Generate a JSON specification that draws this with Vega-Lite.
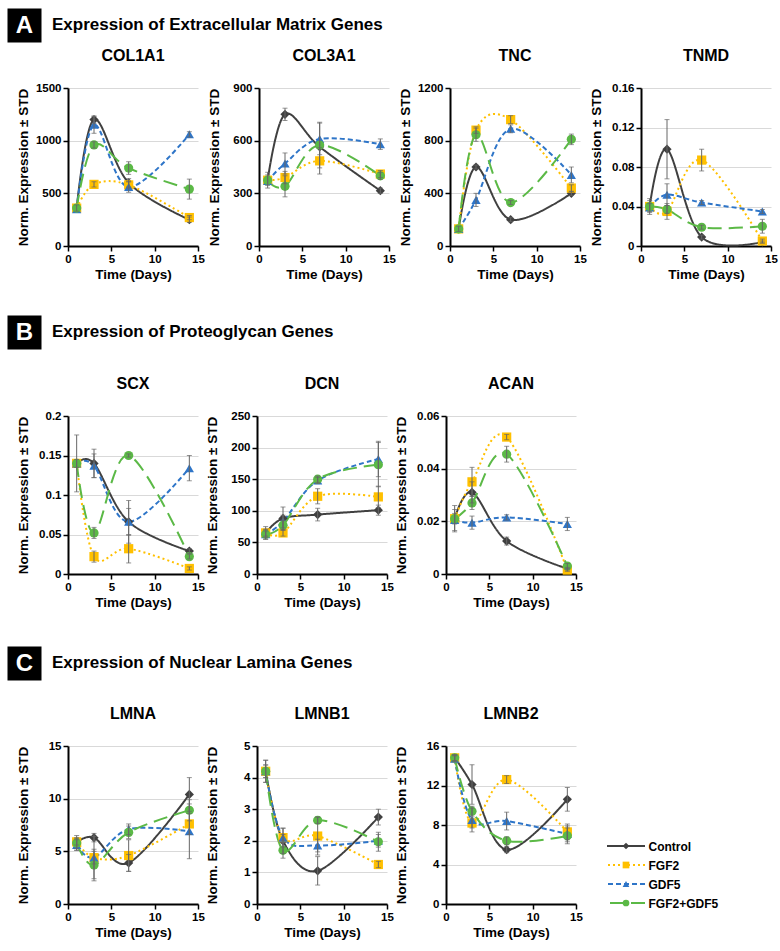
{
"$schema": "https://vega.github.io/schema/vega-lite/v6.json",
"padding": {"left": 7, "top": 8, "right": 5, "bottom": 5},
"background": "white",
"data": {"values": [
{"g":"COL1A1","s":"Control","t":1,"v":360,"e":0},{"g":"COL1A1","s":"Control","t":3,"v":1200,"e":35},{"g":"COL1A1","s":"Control","t":7,"v":600,"e":40},{"g":"COL1A1","s":"Control","t":14,"v":250,"e":25},
{"g":"COL1A1","s":"FGF2","t":1,"v":360,"e":0},{"g":"COL1A1","s":"FGF2","t":3,"v":585,"e":25},{"g":"COL1A1","s":"FGF2","t":7,"v":580,"e":30},{"g":"COL1A1","s":"FGF2","t":14,"v":270,"e":20},
{"g":"COL1A1","s":"GDF5","t":1,"v":350,"e":0},{"g":"COL1A1","s":"GDF5","t":3,"v":1150,"e":80},{"g":"COL1A1","s":"GDF5","t":7,"v":560,"e":50},{"g":"COL1A1","s":"GDF5","t":14,"v":1060,"e":25},
{"g":"COL1A1","s":"FGF2+GDF5","t":1,"v":360,"e":30},{"g":"COL1A1","s":"FGF2+GDF5","t":3,"v":960,"e":30},{"g":"COL1A1","s":"FGF2+GDF5","t":7,"v":740,"e":60},{"g":"COL1A1","s":"FGF2+GDF5","t":14,"v":540,"e":95},
{"g":"COL3A1","s":"Control","t":1,"v":375,"e":30},{"g":"COL3A1","s":"Control","t":3,"v":750,"e":35},{"g":"COL3A1","s":"Control","t":7,"v":565,"e":0},{"g":"COL3A1","s":"Control","t":14,"v":315,"e":15},
{"g":"COL3A1","s":"FGF2","t":1,"v":375,"e":0},{"g":"COL3A1","s":"FGF2","t":3,"v":390,"e":35},{"g":"COL3A1","s":"FGF2","t":7,"v":485,"e":75},{"g":"COL3A1","s":"FGF2","t":14,"v":410,"e":20},
{"g":"COL3A1","s":"GDF5","t":1,"v":370,"e":0},{"g":"COL3A1","s":"GDF5","t":3,"v":470,"e":60},{"g":"COL3A1","s":"GDF5","t":7,"v":610,"e":90},{"g":"COL3A1","s":"GDF5","t":14,"v":580,"e":30},
{"g":"COL3A1","s":"FGF2+GDF5","t":1,"v":375,"e":45},{"g":"COL3A1","s":"FGF2+GDF5","t":3,"v":340,"e":60},{"g":"COL3A1","s":"FGF2+GDF5","t":7,"v":575,"e":130},{"g":"COL3A1","s":"FGF2+GDF5","t":14,"v":400,"e":20},
{"g":"TNC","s":"Control","t":1,"v":130,"e":0},{"g":"TNC","s":"Control","t":3,"v":600,"e":15},{"g":"TNC","s":"Control","t":7,"v":200,"e":15},{"g":"TNC","s":"Control","t":14,"v":400,"e":15},
{"g":"TNC","s":"FGF2","t":1,"v":130,"e":0},{"g":"TNC","s":"FGF2","t":3,"v":880,"e":25},{"g":"TNC","s":"FGF2","t":7,"v":960,"e":30},{"g":"TNC","s":"FGF2","t":14,"v":440,"e":25},
{"g":"TNC","s":"GDF5","t":1,"v":130,"e":0},{"g":"TNC","s":"GDF5","t":3,"v":350,"e":50},{"g":"TNC","s":"GDF5","t":7,"v":890,"e":30},{"g":"TNC","s":"GDF5","t":14,"v":540,"e":60},
{"g":"TNC","s":"FGF2+GDF5","t":1,"v":130,"e":20},{"g":"TNC","s":"FGF2+GDF5","t":3,"v":845,"e":50},{"g":"TNC","s":"FGF2+GDF5","t":7,"v":330,"e":15},{"g":"TNC","s":"FGF2+GDF5","t":14,"v":810,"e":40},
{"g":"TNMD","s":"Control","t":1,"v":0.040,"e":0.006},{"g":"TNMD","s":"Control","t":3,"v":0.098,"e":0.030},{"g":"TNMD","s":"Control","t":7,"v":0.009,"e":0.002},{"g":"TNMD","s":"Control","t":14,"v":0.004,"e":0.001},
{"g":"TNMD","s":"FGF2","t":1,"v":0.040,"e":0},{"g":"TNMD","s":"FGF2","t":3,"v":0.035,"e":0.008},{"g":"TNMD","s":"FGF2","t":7,"v":0.087,"e":0.011},{"g":"TNMD","s":"FGF2","t":14,"v":0.005,"e":0.002},
{"g":"TNMD","s":"GDF5","t":1,"v":0.039,"e":0.004},{"g":"TNMD","s":"GDF5","t":3,"v":0.052,"e":0.011},{"g":"TNMD","s":"GDF5","t":7,"v":0.044,"e":0.002},{"g":"TNMD","s":"GDF5","t":14,"v":0.035,"e":0.002},
{"g":"TNMD","s":"FGF2+GDF5","t":1,"v":0.040,"e":0.008},{"g":"TNMD","s":"FGF2+GDF5","t":3,"v":0.037,"e":0.004},{"g":"TNMD","s":"FGF2+GDF5","t":7,"v":0.019,"e":0.002},{"g":"TNMD","s":"FGF2+GDF5","t":14,"v":0.020,"e":0.007},
{"g":"SCX","s":"Control","t":1,"v":0.140,"e":0.036},{"g":"SCX","s":"Control","t":3,"v":0.140,"e":0.018},{"g":"SCX","s":"Control","t":7,"v":0.066,"e":0.027},{"g":"SCX","s":"Control","t":14,"v":0.029,"e":0.003},
{"g":"SCX","s":"FGF2","t":1,"v":0.140,"e":0},{"g":"SCX","s":"FGF2","t":3,"v":0.022,"e":0.007},{"g":"SCX","s":"FGF2","t":7,"v":0.032,"e":0.018},{"g":"SCX","s":"FGF2","t":14,"v":0.007,"e":0.002},
{"g":"SCX","s":"GDF5","t":1,"v":0.140,"e":0},{"g":"SCX","s":"GDF5","t":3,"v":0.137,"e":0.015},{"g":"SCX","s":"GDF5","t":7,"v":0.066,"e":0.017},{"g":"SCX","s":"GDF5","t":14,"v":0.134,"e":0.016},
{"g":"SCX","s":"FGF2+GDF5","t":1,"v":0.140,"e":0.005},{"g":"SCX","s":"FGF2+GDF5","t":3,"v":0.052,"e":0.007},{"g":"SCX","s":"FGF2+GDF5","t":7,"v":0.150,"e":0.002},{"g":"SCX","s":"FGF2+GDF5","t":14,"v":0.022,"e":0.003},
{"g":"DCN","s":"Control","t":1,"v":65,"e":10},{"g":"DCN","s":"Control","t":3,"v":88,"e":18},{"g":"DCN","s":"Control","t":7,"v":94,"e":10},{"g":"DCN","s":"Control","t":14,"v":101,"e":8},
{"g":"DCN","s":"FGF2","t":1,"v":65,"e":5},{"g":"DCN","s":"FGF2","t":3,"v":65,"e":5},{"g":"DCN","s":"FGF2","t":7,"v":123,"e":12},{"g":"DCN","s":"FGF2","t":14,"v":122,"e":17},
{"g":"DCN","s":"GDF5","t":1,"v":63,"e":5},{"g":"DCN","s":"GDF5","t":3,"v":83,"e":10},{"g":"DCN","s":"GDF5","t":7,"v":148,"e":5},{"g":"DCN","s":"GDF5","t":14,"v":182,"e":28},
{"g":"DCN","s":"FGF2+GDF5","t":1,"v":63,"e":8},{"g":"DCN","s":"FGF2+GDF5","t":3,"v":77,"e":8},{"g":"DCN","s":"FGF2+GDF5","t":7,"v":150,"e":5},{"g":"DCN","s":"FGF2+GDF5","t":14,"v":173,"e":35},
{"g":"ACAN","s":"Control","t":1,"v":0.021,"e":0.002},{"g":"ACAN","s":"Control","t":3,"v":0.031,"e":0.004},{"g":"ACAN","s":"Control","t":7,"v":0.0125,"e":0.0015},{"g":"ACAN","s":"Control","t":14,"v":0.002,"e":0.0005},
{"g":"ACAN","s":"FGF2","t":1,"v":0.021,"e":0},{"g":"ACAN","s":"FGF2","t":3,"v":0.035,"e":0.0055},{"g":"ACAN","s":"FGF2","t":7,"v":0.052,"e":0.001},{"g":"ACAN","s":"FGF2","t":14,"v":0.0015,"e":0.0005},
{"g":"ACAN","s":"GDF5","t":1,"v":0.0205,"e":0.004},{"g":"ACAN","s":"GDF5","t":3,"v":0.0195,"e":0.0025},{"g":"ACAN","s":"GDF5","t":7,"v":0.0215,"e":0.001},{"g":"ACAN","s":"GDF5","t":14,"v":0.019,"e":0.0025},
{"g":"ACAN","s":"FGF2+GDF5","t":1,"v":0.021,"e":0.005},{"g":"ACAN","s":"FGF2+GDF5","t":3,"v":0.027,"e":0.0025},{"g":"ACAN","s":"FGF2+GDF5","t":7,"v":0.0455,"e":0.003},{"g":"ACAN","s":"FGF2+GDF5","t":14,"v":0.003,"e":0.001},
{"g":"LMNA","s":"Control","t":1,"v":5.8,"e":0.5},{"g":"LMNA","s":"Control","t":3,"v":6.3,"e":0.4},{"g":"LMNA","s":"Control","t":7,"v":3.9,"e":0.8},{"g":"LMNA","s":"Control","t":14,"v":10.4,"e":1.6},
{"g":"LMNA","s":"FGF2","t":1,"v":5.9,"e":0.3},{"g":"LMNA","s":"FGF2","t":3,"v":4.4,"e":0.6},{"g":"LMNA","s":"FGF2","t":7,"v":4.6,"e":1.5},{"g":"LMNA","s":"FGF2","t":14,"v":7.6,"e":1.0},
{"g":"LMNA","s":"GDF5","t":1,"v":5.6,"e":0.5},{"g":"LMNA","s":"GDF5","t":3,"v":4.4,"e":2.0},{"g":"LMNA","s":"GDF5","t":7,"v":7.1,"e":0.5},{"g":"LMNA","s":"GDF5","t":14,"v":6.9,"e":2.6},
{"g":"LMNA","s":"FGF2+GDF5","t":1,"v":5.8,"e":0.7},{"g":"LMNA","s":"FGF2+GDF5","t":3,"v":3.7,"e":1.5},{"g":"LMNA","s":"FGF2+GDF5","t":7,"v":6.8,"e":0.6},{"g":"LMNA","s":"FGF2+GDF5","t":14,"v":8.9,"e":1.0},
{"g":"LMNB1","s":"Control","t":1,"v":4.2,"e":0.35},{"g":"LMNB1","s":"Control","t":3,"v":2.0,"e":0.4},{"g":"LMNB1","s":"Control","t":7,"v":1.05,"e":0.45},{"g":"LMNB1","s":"Control","t":14,"v":2.75,"e":0.25},
{"g":"LMNB1","s":"FGF2","t":1,"v":4.2,"e":0.2},{"g":"LMNB1","s":"FGF2","t":3,"v":2.1,"e":0.1},{"g":"LMNB1","s":"FGF2","t":7,"v":2.15,"e":0.6},{"g":"LMNB1","s":"FGF2","t":14,"v":1.25,"e":0.1},
{"g":"LMNB1","s":"GDF5","t":1,"v":4.2,"e":0.2},{"g":"LMNB1","s":"GDF5","t":3,"v":2.1,"e":0.3},{"g":"LMNB1","s":"GDF5","t":7,"v":1.85,"e":0.2},{"g":"LMNB1","s":"GDF5","t":14,"v":2.0,"e":0.2},
{"g":"LMNB1","s":"FGF2+GDF5","t":1,"v":4.2,"e":0.35},{"g":"LMNB1","s":"FGF2+GDF5","t":3,"v":1.7,"e":0.25},{"g":"LMNB1","s":"FGF2+GDF5","t":7,"v":2.65,"e":0.1},{"g":"LMNB1","s":"FGF2+GDF5","t":14,"v":1.97,"e":0.3},
{"g":"LMNB2","s":"Control","t":1,"v":14.8,"e":0.3},{"g":"LMNB2","s":"Control","t":3,"v":12.1,"e":2.0},{"g":"LMNB2","s":"Control","t":7,"v":5.5,"e":0.3},{"g":"LMNB2","s":"Control","t":14,"v":10.6,"e":1.2},
{"g":"LMNB2","s":"FGF2","t":1,"v":14.8,"e":0.3},{"g":"LMNB2","s":"FGF2","t":3,"v":8.2,"e":0.5},{"g":"LMNB2","s":"FGF2","t":7,"v":12.6,"e":0.4},{"g":"LMNB2","s":"FGF2","t":14,"v":7.3,"e":0.8},
{"g":"LMNB2","s":"GDF5","t":1,"v":14.7,"e":0.3},{"g":"LMNB2","s":"GDF5","t":3,"v":8.5,"e":1.2},{"g":"LMNB2","s":"GDF5","t":7,"v":8.4,"e":0.9},{"g":"LMNB2","s":"GDF5","t":14,"v":7.1,"e":0.8},
{"g":"LMNB2","s":"FGF2+GDF5","t":1,"v":14.8,"e":0.3},{"g":"LMNB2","s":"FGF2+GDF5","t":3,"v":9.4,"e":0.5},{"g":"LMNB2","s":"FGF2+GDF5","t":7,"v":6.4,"e":0.4},{"g":"LMNB2","s":"FGF2+GDF5","t":14,"v":6.9,"e":0.8}
]},
"vconcat": [
 {"spacing": 6, "vconcat": [
  {"width": 380, "height": 34, "data": {"values": [{"l": "A", "k": "Expression of Extracellular Matrix Genes"}]},
   "mark": {"type": "text", "align": "left", "dx": -16, "fontSize": 17, "fontWeight": "bold", "color": "black"},
   "encoding": {"text": {"field": "k"},
     "x": {"field": "k", "type": "nominal", "scale": {"type": "point", "padding": 0, "align": 0}, "axis": null},
     "y": {"field": "l", "type": "nominal", "scale": {"type": "point", "padding": 0.5}, "axis": {"orient": "left", "title": "A", "titleAngle": 0, "titleAlign": "center", "titleBaseline": "middle", "titleColor": "white", "titleFontSize": 24, "titleFontWeight": "bold", "titlePadding": -17, "labels": false, "ticks": false, "domain": true, "domainColor": "black", "domainWidth": 34, "domainCap": "butt", "offset": 44, "grid": false, "minExtent": 17, "maxExtent": 17}}}},
  {"spacing": 2, "hconcat": [
   {"title": "COL1A1", "width": 130, "height": 158, "transform": [{"filter": "datum.g === 'COL1A1'"}],
    "encoding": {"x": {"field": "t", "type": "quantitative", "scale": {"domain": [0, 15]}, "axis": {"values": [0, 5, 10, 15], "title": "Time (Days)"}},
                 "y": {"field": "v", "type": "quantitative", "scale": {"domain": [0, 1500]}, "axis": {"values": [0, 500, 1000, 1500], "format": "~r", "title": "Norm. Expression ± STD"}}},
    "layer": [
     {"mark": {"type": "line", "interpolate": "cardinal", "strokeWidth": 2}, "encoding": {"color": {"field": "s", "type": "nominal", "scale": {"domain": ["Control", "FGF2", "GDF5", "FGF2+GDF5"], "range": ["#404040", "#FFC000", "#2E75C8", "#5BB946"]}}, "strokeDash": {"field": "s", "type": "nominal", "scale": {"domain": ["Control", "FGF2", "GDF5", "FGF2+GDF5"], "range": [[1, 0], [2, 3], [5, 3], [14, 7]]}}}},
     {"mark": {"type": "point", "filled": true, "opacity": 1, "size": 85}, "encoding": {"color": {"field": "s", "type": "nominal"}, "shape": {"field": "s", "type": "nominal", "scale": {"domain": ["Control", "FGF2", "GDF5", "FGF2+GDF5"], "range": ["diamond", "square", "triangle-up", "circle"]}}}},
     {"transform": [{"filter": "datum.e > 0"}], "mark": {"type": "errorbar", "ticks": true, "color": "#666666", "thickness": 1}, "encoding": {"yError": {"field": "e"}}}
    ]},
   {"title": "COL3A1", "width": 130, "height": 158, "transform": [{"filter": "datum.g === 'COL3A1'"}],
    "encoding": {"x": {"field": "t", "type": "quantitative", "scale": {"domain": [0, 15]}, "axis": {"values": [0, 5, 10, 15], "title": "Time (Days)"}},
                 "y": {"field": "v", "type": "quantitative", "scale": {"domain": [0, 900]}, "axis": {"values": [0, 300, 600, 900], "format": "~r", "title": "Norm. Expression ± STD"}}},
    "layer": [
     {"mark": {"type": "line", "interpolate": "cardinal", "strokeWidth": 2}, "encoding": {"color": {"field": "s", "type": "nominal", "scale": {"domain": ["Control", "FGF2", "GDF5", "FGF2+GDF5"], "range": ["#404040", "#FFC000", "#2E75C8", "#5BB946"]}}, "strokeDash": {"field": "s", "type": "nominal", "scale": {"domain": ["Control", "FGF2", "GDF5", "FGF2+GDF5"], "range": [[1, 0], [2, 3], [5, 3], [14, 7]]}}}},
     {"mark": {"type": "point", "filled": true, "opacity": 1, "size": 85}, "encoding": {"color": {"field": "s", "type": "nominal"}, "shape": {"field": "s", "type": "nominal", "scale": {"domain": ["Control", "FGF2", "GDF5", "FGF2+GDF5"], "range": ["diamond", "square", "triangle-up", "circle"]}}}},
     {"transform": [{"filter": "datum.e > 0"}], "mark": {"type": "errorbar", "ticks": true, "color": "#666666", "thickness": 1}, "encoding": {"yError": {"field": "e"}}}
    ]},
   {"title": "TNC", "width": 130, "height": 158, "transform": [{"filter": "datum.g === 'TNC'"}],
    "encoding": {"x": {"field": "t", "type": "quantitative", "scale": {"domain": [0, 15]}, "axis": {"values": [0, 5, 10, 15], "title": "Time (Days)"}},
                 "y": {"field": "v", "type": "quantitative", "scale": {"domain": [0, 1200]}, "axis": {"values": [0, 400, 800, 1200], "format": "~r", "title": "Norm. Expression ± STD"}}},
    "layer": [
     {"mark": {"type": "line", "interpolate": "cardinal", "strokeWidth": 2}, "encoding": {"color": {"field": "s", "type": "nominal", "scale": {"domain": ["Control", "FGF2", "GDF5", "FGF2+GDF5"], "range": ["#404040", "#FFC000", "#2E75C8", "#5BB946"]}}, "strokeDash": {"field": "s", "type": "nominal", "scale": {"domain": ["Control", "FGF2", "GDF5", "FGF2+GDF5"], "range": [[1, 0], [2, 3], [5, 3], [14, 7]]}}}},
     {"mark": {"type": "point", "filled": true, "opacity": 1, "size": 85}, "encoding": {"color": {"field": "s", "type": "nominal"}, "shape": {"field": "s", "type": "nominal", "scale": {"domain": ["Control", "FGF2", "GDF5", "FGF2+GDF5"], "range": ["diamond", "square", "triangle-up", "circle"]}}}},
     {"transform": [{"filter": "datum.e > 0"}], "mark": {"type": "errorbar", "ticks": true, "color": "#666666", "thickness": 1}, "encoding": {"yError": {"field": "e"}}}
    ]},
   {"title": "TNMD", "width": 130, "height": 158, "transform": [{"filter": "datum.g === 'TNMD'"}],
    "encoding": {"x": {"field": "t", "type": "quantitative", "scale": {"domain": [0, 15]}, "axis": {"values": [0, 5, 10, 15], "title": "Time (Days)"}},
                 "y": {"field": "v", "type": "quantitative", "scale": {"domain": [0, 0.16]}, "axis": {"values": [0, 0.04, 0.08, 0.12, 0.16], "format": "~r", "title": "Norm. Expression ± STD"}}},
    "layer": [
     {"mark": {"type": "line", "interpolate": "cardinal", "strokeWidth": 2}, "encoding": {"color": {"field": "s", "type": "nominal", "scale": {"domain": ["Control", "FGF2", "GDF5", "FGF2+GDF5"], "range": ["#404040", "#FFC000", "#2E75C8", "#5BB946"]}}, "strokeDash": {"field": "s", "type": "nominal", "scale": {"domain": ["Control", "FGF2", "GDF5", "FGF2+GDF5"], "range": [[1, 0], [2, 3], [5, 3], [14, 7]]}}}},
     {"mark": {"type": "point", "filled": true, "opacity": 1, "size": 85}, "encoding": {"color": {"field": "s", "type": "nominal"}, "shape": {"field": "s", "type": "nominal", "scale": {"domain": ["Control", "FGF2", "GDF5", "FGF2+GDF5"], "range": ["diamond", "square", "triangle-up", "circle"]}}}},
     {"transform": [{"filter": "datum.e > 0"}], "mark": {"type": "errorbar", "ticks": true, "color": "#666666", "thickness": 1}, "encoding": {"yError": {"field": "e"}}}
    ]}
  ]}
 ]},
 {"spacing": 37, "vconcat": [
  {"spacing": 27, "vconcat": [
   {"width": 380, "height": 34, "data": {"values": [{"l": "B", "k": "Expression of Proteoglycan Genes"}]},
    "mark": {"type": "text", "align": "left", "dx": -16, "fontSize": 17, "fontWeight": "bold", "color": "black"},
    "encoding": {"text": {"field": "k"},
      "x": {"field": "k", "type": "nominal", "scale": {"type": "point", "padding": 0, "align": 0}, "axis": null},
      "y": {"field": "l", "type": "nominal", "scale": {"type": "point", "padding": 0.5}, "axis": {"orient": "left", "title": "B", "titleAngle": 0, "titleAlign": "center", "titleBaseline": "middle", "titleColor": "white", "titleFontSize": 24, "titleFontWeight": "bold", "titlePadding": -17, "labels": false, "ticks": false, "domain": true, "domainColor": "black", "domainWidth": 34, "domainCap": "butt", "offset": 44, "grid": false, "minExtent": 17, "maxExtent": 17}}}},
   {"spacing": 0, "hconcat": [
    {"title": "SCX", "width": 130, "height": 158, "transform": [{"filter": "datum.g === 'SCX'"}],
     "encoding": {"x": {"field": "t", "type": "quantitative", "scale": {"domain": [0, 15]}, "axis": {"values": [0, 5, 10, 15], "title": "Time (Days)"}},
                  "y": {"field": "v", "type": "quantitative", "scale": {"domain": [0, 0.2]}, "axis": {"values": [0, 0.05, 0.1, 0.15, 0.2], "format": "~r", "title": "Norm. Expression ± STD"}}},
     "layer": [
      {"mark": {"type": "line", "interpolate": "cardinal", "strokeWidth": 2}, "encoding": {"color": {"field": "s", "type": "nominal", "scale": {"domain": ["Control", "FGF2", "GDF5", "FGF2+GDF5"], "range": ["#404040", "#FFC000", "#2E75C8", "#5BB946"]}}, "strokeDash": {"field": "s", "type": "nominal", "scale": {"domain": ["Control", "FGF2", "GDF5", "FGF2+GDF5"], "range": [[1, 0], [2, 3], [5, 3], [14, 7]]}}}},
      {"mark": {"type": "point", "filled": true, "opacity": 1, "size": 85}, "encoding": {"color": {"field": "s", "type": "nominal"}, "shape": {"field": "s", "type": "nominal", "scale": {"domain": ["Control", "FGF2", "GDF5", "FGF2+GDF5"], "range": ["diamond", "square", "triangle-up", "circle"]}}}},
      {"transform": [{"filter": "datum.e > 0"}], "mark": {"type": "errorbar", "ticks": true, "color": "#666666", "thickness": 1}, "encoding": {"yError": {"field": "e"}}}
     ]},
    {"title": "DCN", "width": 130, "height": 158, "transform": [{"filter": "datum.g === 'DCN'"}],
     "encoding": {"x": {"field": "t", "type": "quantitative", "scale": {"domain": [0, 15]}, "axis": {"values": [0, 5, 10, 15], "title": "Time (Days)"}},
                  "y": {"field": "v", "type": "quantitative", "scale": {"domain": [0, 250]}, "axis": {"values": [0, 50, 100, 150, 200, 250], "format": "~r", "title": "Norm. Expression ± STD"}}},
     "layer": [
      {"mark": {"type": "line", "interpolate": "cardinal", "strokeWidth": 2}, "encoding": {"color": {"field": "s", "type": "nominal", "scale": {"domain": ["Control", "FGF2", "GDF5", "FGF2+GDF5"], "range": ["#404040", "#FFC000", "#2E75C8", "#5BB946"]}}, "strokeDash": {"field": "s", "type": "nominal", "scale": {"domain": ["Control", "FGF2", "GDF5", "FGF2+GDF5"], "range": [[1, 0], [2, 3], [5, 3], [14, 7]]}}}},
      {"mark": {"type": "point", "filled": true, "opacity": 1, "size": 85}, "encoding": {"color": {"field": "s", "type": "nominal"}, "shape": {"field": "s", "type": "nominal", "scale": {"domain": ["Control", "FGF2", "GDF5", "FGF2+GDF5"], "range": ["diamond", "square", "triangle-up", "circle"]}}}},
      {"transform": [{"filter": "datum.e > 0"}], "mark": {"type": "errorbar", "ticks": true, "color": "#666666", "thickness": 1}, "encoding": {"yError": {"field": "e"}}}
     ]},
    {"title": "ACAN", "width": 130, "height": 158, "transform": [{"filter": "datum.g === 'ACAN'"}],
     "encoding": {"x": {"field": "t", "type": "quantitative", "scale": {"domain": [0, 15]}, "axis": {"values": [0, 5, 10, 15], "title": "Time (Days)"}},
                  "y": {"field": "v", "type": "quantitative", "scale": {"domain": [0, 0.06]}, "axis": {"values": [0, 0.02, 0.04, 0.06], "format": "~r", "title": "Norm. Expression ± STD"}}},
     "layer": [
      {"mark": {"type": "line", "interpolate": "cardinal", "strokeWidth": 2}, "encoding": {"color": {"field": "s", "type": "nominal", "scale": {"domain": ["Control", "FGF2", "GDF5", "FGF2+GDF5"], "range": ["#404040", "#FFC000", "#2E75C8", "#5BB946"]}}, "strokeDash": {"field": "s", "type": "nominal", "scale": {"domain": ["Control", "FGF2", "GDF5", "FGF2+GDF5"], "range": [[1, 0], [2, 3], [5, 3], [14, 7]]}}}},
      {"mark": {"type": "point", "filled": true, "opacity": 1, "size": 85}, "encoding": {"color": {"field": "s", "type": "nominal"}, "shape": {"field": "s", "type": "nominal", "scale": {"domain": ["Control", "FGF2", "GDF5", "FGF2+GDF5"], "range": ["diamond", "square", "triangle-up", "circle"]}}}},
      {"transform": [{"filter": "datum.e > 0"}], "mark": {"type": "errorbar", "ticks": true, "color": "#666666", "thickness": 1}, "encoding": {"yError": {"field": "e"}}}
     ]}
   ]}
  ]},
  {"spacing": 26, "vconcat": [
   {"width": 380, "height": 34, "data": {"values": [{"l": "C", "k": "Expression of Nuclear Lamina Genes"}]},
    "mark": {"type": "text", "align": "left", "dx": -16, "fontSize": 17, "fontWeight": "bold", "color": "black"},
    "encoding": {"text": {"field": "k"},
      "x": {"field": "k", "type": "nominal", "scale": {"type": "point", "padding": 0, "align": 0}, "axis": null},
      "y": {"field": "l", "type": "nominal", "scale": {"type": "point", "padding": 0.5}, "axis": {"orient": "left", "title": "C", "titleAngle": 0, "titleAlign": "center", "titleBaseline": "middle", "titleColor": "white", "titleFontSize": 24, "titleFontWeight": "bold", "titlePadding": -17, "labels": false, "ticks": false, "domain": true, "domainColor": "black", "domainWidth": 34, "domainCap": "butt", "offset": 44, "grid": false, "minExtent": 17, "maxExtent": 17}}}},
   {"spacing": 23, "hconcat": [
    {"spacing": 0, "hconcat": [
     {"title": "LMNA", "width": 130, "height": 158, "transform": [{"filter": "datum.g === 'LMNA'"}],
      "encoding": {"x": {"field": "t", "type": "quantitative", "scale": {"domain": [0, 15]}, "axis": {"values": [0, 5, 10, 15], "title": "Time (Days)"}},
                   "y": {"field": "v", "type": "quantitative", "scale": {"domain": [0, 15]}, "axis": {"values": [0, 5, 10, 15], "format": "~r", "title": "Norm. Expression ± STD"}}},
      "layer": [
       {"mark": {"type": "line", "interpolate": "cardinal", "strokeWidth": 2}, "encoding": {"color": {"field": "s", "type": "nominal", "scale": {"domain": ["Control", "FGF2", "GDF5", "FGF2+GDF5"], "range": ["#404040", "#FFC000", "#2E75C8", "#5BB946"]}}, "strokeDash": {"field": "s", "type": "nominal", "scale": {"domain": ["Control", "FGF2", "GDF5", "FGF2+GDF5"], "range": [[1, 0], [2, 3], [5, 3], [14, 7]]}}}},
       {"mark": {"type": "point", "filled": true, "opacity": 1, "size": 85}, "encoding": {"color": {"field": "s", "type": "nominal"}, "shape": {"field": "s", "type": "nominal", "scale": {"domain": ["Control", "FGF2", "GDF5", "FGF2+GDF5"], "range": ["diamond", "square", "triangle-up", "circle"]}}}},
       {"transform": [{"filter": "datum.e > 0"}], "mark": {"type": "errorbar", "ticks": true, "color": "#666666", "thickness": 1}, "encoding": {"yError": {"field": "e"}}}
      ]},
     {"title": "LMNB1", "width": 130, "height": 158, "transform": [{"filter": "datum.g === 'LMNB1'"}],
      "encoding": {"x": {"field": "t", "type": "quantitative", "scale": {"domain": [0, 15]}, "axis": {"values": [0, 5, 10, 15], "title": "Time (Days)"}},
                   "y": {"field": "v", "type": "quantitative", "scale": {"domain": [0, 5]}, "axis": {"values": [0, 1, 2, 3, 4, 5], "format": "~r", "title": "Norm. Expression ± STD"}}},
      "layer": [
       {"mark": {"type": "line", "interpolate": "cardinal", "strokeWidth": 2}, "encoding": {"color": {"field": "s", "type": "nominal", "scale": {"domain": ["Control", "FGF2", "GDF5", "FGF2+GDF5"], "range": ["#404040", "#FFC000", "#2E75C8", "#5BB946"]}}, "strokeDash": {"field": "s", "type": "nominal", "scale": {"domain": ["Control", "FGF2", "GDF5", "FGF2+GDF5"], "range": [[1, 0], [2, 3], [5, 3], [14, 7]]}}}},
       {"mark": {"type": "point", "filled": true, "opacity": 1, "size": 85}, "encoding": {"color": {"field": "s", "type": "nominal"}, "shape": {"field": "s", "type": "nominal", "scale": {"domain": ["Control", "FGF2", "GDF5", "FGF2+GDF5"], "range": ["diamond", "square", "triangle-up", "circle"]}}}},
       {"transform": [{"filter": "datum.e > 0"}], "mark": {"type": "errorbar", "ticks": true, "color": "#666666", "thickness": 1}, "encoding": {"yError": {"field": "e"}}}
      ]},
     {"title": "LMNB2", "width": 130, "height": 158, "transform": [{"filter": "datum.g === 'LMNB2'"}],
      "encoding": {"x": {"field": "t", "type": "quantitative", "scale": {"domain": [0, 15]}, "axis": {"values": [0, 5, 10, 15], "title": "Time (Days)"}},
                   "y": {"field": "v", "type": "quantitative", "scale": {"domain": [0, 16]}, "axis": {"values": [0, 4, 8, 12, 16], "format": "~r", "title": "Norm. Expression ± STD"}}},
      "layer": [
       {"mark": {"type": "line", "interpolate": "cardinal", "strokeWidth": 2}, "encoding": {"color": {"field": "s", "type": "nominal", "scale": {"domain": ["Control", "FGF2", "GDF5", "FGF2+GDF5"], "range": ["#404040", "#FFC000", "#2E75C8", "#5BB946"]}}, "strokeDash": {"field": "s", "type": "nominal", "scale": {"domain": ["Control", "FGF2", "GDF5", "FGF2+GDF5"], "range": [[1, 0], [2, 3], [5, 3], [14, 7]]}}}},
       {"mark": {"type": "point", "filled": true, "opacity": 1, "size": 85}, "encoding": {"color": {"field": "s", "type": "nominal"}, "shape": {"field": "s", "type": "nominal", "scale": {"domain": ["Control", "FGF2", "GDF5", "FGF2+GDF5"], "range": ["diamond", "square", "triangle-up", "circle"]}}}},
       {"transform": [{"filter": "datum.e > 0"}], "mark": {"type": "errorbar", "ticks": true, "color": "#666666", "thickness": 1}, "encoding": {"yError": {"field": "e"}}}
      ]}
    ]},
    {"width": 38, "height": 158, "data": {"values": [{"s": "Control"}, {"s": "FGF2"}, {"s": "GDF5"}, {"s": "FGF2+GDF5"}]},
     "encoding": {"y": {"field": "s", "type": "nominal", "scale": {"type": "point", "domain": ["Control", "FGF2", "GDF5", "FGF2+GDF5"], "range": [100, 157], "padding": 0},
                        "axis": {"orient": "right", "title": null, "domain": false, "ticks": false, "grid": false, "labelFontSize": 12, "labelPadding": 3, "minExtent": 0, "maxExtent": 200}}},
     "layer": [
      {"mark": {"type": "rule", "strokeWidth": 2}, "encoding": {"color": {"field": "s", "type": "nominal", "scale": {"domain": ["Control", "FGF2", "GDF5", "FGF2+GDF5"], "range": ["#404040", "#FFC000", "#2E75C8", "#5BB946"]}}, "strokeDash": {"field": "s", "type": "nominal", "scale": {"domain": ["Control", "FGF2", "GDF5", "FGF2+GDF5"], "range": [[1, 0], [2, 3], [5, 3], [14, 7]]}}}},
      {"mark": {"type": "point", "filled": true, "opacity": 1, "size": 45}, "encoding": {"color": {"field": "s", "type": "nominal"}, "shape": {"field": "s", "type": "nominal", "scale": {"domain": ["Control", "FGF2", "GDF5", "FGF2+GDF5"], "range": ["diamond", "square", "triangle-up", "circle"]}}}}
     ]}
   ]}
  ]}
 ]}
],
"spacing": 34,
"config": {
 "font": "Liberation Sans",
 "view": {"stroke": null},
 "legend": {"disable": true},
 "title": {"fontSize": 16, "fontWeight": "bold", "color": "black", "offset": 18},
 "axis": {"domainColor": "black", "domainWidth": 2, "tickColor": "black", "tickWidth": 1.5, "tickSize": 5, "labelFontSize": 11.5, "labelFontWeight": "bold", "labelColor": "black", "labelPadding": 2, "labelFlush": false, "titleFontSize": 13.5, "titleFontWeight": "bold", "titleColor": "black"},
 "axisX": {"grid": false, "titlePadding": 3},
 "axisY": {"grid": true, "gridColor": "#d9d9d9", "gridWidth": 1, "minExtent": 35, "maxExtent": 35, "titlePadding": 3}
}
}
